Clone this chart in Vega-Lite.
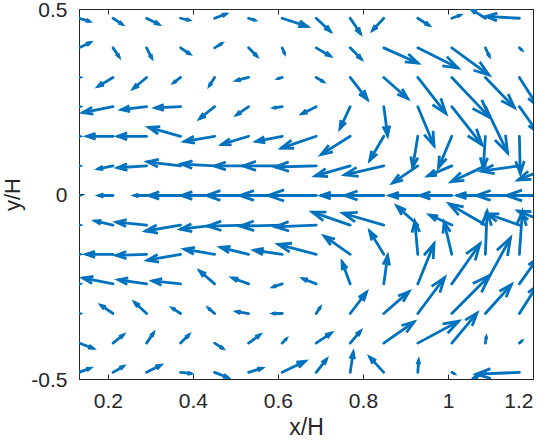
{
  "$schema": "https://vega.github.io/schema/vega-lite/v6.json",
  "width": 454,
  "height": 370,
  "autosize": "none",
  "padding": {"left": 79, "top": 9, "right": 16, "bottom": 61},
  "background": "white",
  "config": {
    "view": {"stroke": null}
  },
  "data": {
    "values": [
      {"x":0.132,"y":0.475,"u":0.024,"v":-0.008},{"x":0.212,"y":0.475,"u":0.021,"v":-0.016},{"x":0.291,"y":0.475,"u":0.028,"v":-0.016},{"x":0.371,"y":0.475,"u":0.019,"v":-0.005},{"x":0.451,"y":0.475,"u":0.026,"v":0.011},{"x":0.531,"y":0.475,"u":0.014,"v":-0.005},{"x":0.610,"y":0.475,"u":0.059,"v":-0.022},{"x":0.690,"y":0.475,"u":0.033,"v":-0.035},{"x":0.770,"y":0.475,"u":0.024,"v":-0.041},{"x":0.849,"y":0.475,"u":-0.026,"v":-0.032},{"x":0.929,"y":0.475,"u":0.026,"v":-0.019},{"x":1.009,"y":0.475,"u":0.019,"v":0.008},{"x":1.088,"y":0.475,"u":-0.033,"v":0.024},{"x":1.168,"y":0.475,"u":-0.078,"v":0.005},
      {"x":0.132,"y":0.395,"u":0.026,"v":0.014},{"x":0.212,"y":0.395,"u":0.014,"v":-0.024},{"x":0.291,"y":0.395,"u":0.012,"v":-0.027},{"x":0.371,"y":0.395,"u":0.021,"v":-0.016},{"x":0.451,"y":0.395,"u":0.016,"v":0.011},{"x":0.531,"y":0.395,"u":0.019,"v":-0.022},{"x":0.610,"y":0.395,"u":0.005,"v":-0.014},{"x":0.690,"y":0.395,"u":0.033,"v":-0.022},{"x":0.770,"y":0.395,"u":0.026,"v":-0.030},{"x":0.849,"y":0.395,"u":0.080,"v":-0.041},{"x":0.929,"y":0.395,"u":0.094,"v":-0.054},{"x":1.009,"y":0.395,"u":0.087,"v":-0.073},{"x":1.088,"y":0.395,"u":0.009,"v":-0.022},{"x":1.168,"y":0.395,"u":0.005,"v":-0.005},
      {"x":0.132,"y":0.315,"u":0.001,"v":0},{"x":0.212,"y":0.315,"u":-0.035,"v":-0.024},{"x":0.291,"y":0.315,"u":-0.031,"v":-0.030},{"x":0.371,"y":0.315,"u":-0.016,"v":-0.014},{"x":0.451,"y":0.315,"u":-0.012,"v":-0.022},{"x":0.531,"y":0.315,"u":-0.028,"v":-0.008},{"x":0.610,"y":0.315,"u":-0.009,"v":-0.003},{"x":0.690,"y":0.315,"u":0.016,"v":-0.011},{"x":0.770,"y":0.315,"u":0.040,"v":-0.059},{"x":0.849,"y":0.315,"u":0.056,"v":-0.057},{"x":0.929,"y":0.315,"u":0.066,"v":-0.097},{"x":1.009,"y":0.315,"u":0.089,"v":-0.108},{"x":1.088,"y":0.315,"u":0.068,"v":-0.081},{"x":1.168,"y":0.315,"u":0.042,"v":-0.076},
      {"x":0.132,"y":0.236,"u":0.001,"v":0},{"x":0.212,"y":0.236,"u":-0.071,"v":-0.016},{"x":0.291,"y":0.236,"u":-0.059,"v":-0.008},{"x":0.371,"y":0.236,"u":-0.059,"v":-0.003},{"x":0.451,"y":0.236,"u":-0.035,"v":-0.032},{"x":0.531,"y":0.236,"u":-0.028,"v":-0.022},{"x":0.610,"y":0.236,"u":-0.019,"v":-0.003},{"x":0.690,"y":0.236,"u":-0.033,"v":-0.019},{"x":0.770,"y":0.236,"u":-0.024,"v":-0.059},{"x":0.849,"y":0.236,"u":0.009,"v":-0.078},{"x":0.929,"y":0.236,"u":0.038,"v":-0.105},{"x":1.009,"y":0.236,"u":0.071,"v":-0.103},{"x":1.088,"y":0.236,"u":0.052,"v":-0.124},{"x":1.168,"y":0.236,"u":0.042,"v":-0.068},
      {"x":0.132,"y":0.156,"u":0.001,"v":0},{"x":0.212,"y":0.156,"u":-0.061,"v":0},{"x":0.291,"y":0.156,"u":-0.068,"v":0},{"x":0.371,"y":0.156,"u":-0.075,"v":0.024},{"x":0.451,"y":0.156,"u":-0.071,"v":-0.014},{"x":0.531,"y":0.156,"u":-0.063,"v":-0.022},{"x":0.610,"y":0.156,"u":-0.061,"v":-0.014},{"x":0.690,"y":0.156,"u":-0.082,"v":-0.032},{"x":0.770,"y":0.156,"u":-0.068,"v":-0.049},{"x":0.849,"y":0.156,"u":-0.033,"v":-0.065},{"x":0.929,"y":0.156,"u":-0.012,"v":-0.084},{"x":1.009,"y":0.156,"u":-0.031,"v":-0.084},{"x":1.088,"y":0.156,"u":-0.005,"v":-0.086},{"x":1.168,"y":0.156,"u":0.002,"v":-0.100},
      {"x":0.132,"y":0.076,"u":0.001,"v":0},{"x":0.212,"y":0.076,"u":-0.035,"v":-0.008},{"x":0.291,"y":0.076,"u":-0.068,"v":-0.005},{"x":0.371,"y":0.076,"u":-0.078,"v":0.011},{"x":0.451,"y":0.076,"u":-0.078,"v":0.005},{"x":0.531,"y":0.076,"u":-0.080,"v":0},{"x":0.610,"y":0.076,"u":-0.092,"v":0},{"x":0.690,"y":0.076,"u":-0.096,"v":-0.003},{"x":0.770,"y":0.076,"u":-0.082,"v":-0.027},{"x":0.849,"y":0.076,"u":-0.092,"v":-0.024},{"x":0.929,"y":0.076,"u":-0.059,"v":-0.046},{"x":1.009,"y":0.076,"u":-0.056,"v":-0.027},{"x":1.088,"y":0.076,"u":-0.080,"v":-0.043},{"x":1.168,"y":0.076,"u":-0.089,"v":-0.014},{"x":1.248,"y":0.076,"u":-0.083,"v":-0.038},
      {"x":0.132,"y":-0.004,"u":0.001,"v":0},{"x":0.212,"y":-0.004,"u":-0.033,"v":0},{"x":0.291,"y":-0.004,"u":-0.028,"v":0},{"x":0.371,"y":-0.004,"u":-0.075,"v":0},{"x":0.451,"y":-0.004,"u":-0.078,"v":0},{"x":0.531,"y":-0.004,"u":-0.099,"v":0},{"x":0.610,"y":-0.004,"u":-0.099,"v":0},{"x":0.690,"y":-0.004,"u":-0.113,"v":0},{"x":0.770,"y":-0.004,"u":-0.068,"v":0},{"x":0.849,"y":-0.004,"u":-0.092,"v":0},{"x":0.929,"y":-0.004,"u":-0.066,"v":0},{"x":1.009,"y":-0.004,"u":-0.075,"v":0},{"x":1.088,"y":-0.004,"u":-0.066,"v":0},{"x":1.168,"y":-0.004,"u":-0.101,"v":0},{"x":1.248,"y":-0.004,"u":-0.110,"v":0},
      {"x":0.132,"y":-0.084,"u":0.001,"v":0},{"x":0.212,"y":-0.084,"u":-0.042,"v":0.011},{"x":0.291,"y":-0.084,"u":-0.071,"v":0.008},{"x":0.371,"y":-0.084,"u":-0.082,"v":-0.016},{"x":0.451,"y":-0.084,"u":-0.080,"v":-0.011},{"x":0.531,"y":-0.084,"u":-0.096,"v":-0.003},{"x":0.610,"y":-0.084,"u":-0.099,"v":-0.003},{"x":0.690,"y":-0.084,"u":-0.096,"v":-0.005},{"x":0.770,"y":-0.084,"u":-0.089,"v":0.035},{"x":0.849,"y":-0.084,"u":-0.096,"v":0.032},{"x":0.929,"y":-0.084,"u":-0.049,"v":0.051},{"x":1.009,"y":-0.084,"u":-0.052,"v":0.027},{"x":1.088,"y":-0.084,"u":-0.085,"v":0.057},{"x":1.168,"y":-0.084,"u":-0.075,"v":0.030},{"x":1.248,"y":-0.084,"u":-0.083,"v":0.038},
      {"x":0.132,"y":-0.163,"u":0.001,"v":0},{"x":0.212,"y":-0.163,"u":-0.063,"v":0},{"x":0.291,"y":-0.163,"u":-0.071,"v":-0.003},{"x":0.371,"y":-0.163,"u":-0.078,"v":-0.016},{"x":0.451,"y":-0.163,"u":-0.071,"v":0.014},{"x":0.531,"y":-0.163,"u":-0.066,"v":0.019},{"x":0.610,"y":-0.163,"u":-0.066,"v":0.011},{"x":0.690,"y":-0.163,"u":-0.089,"v":0.027},{"x":0.770,"y":-0.163,"u":-0.061,"v":0.049},{"x":0.849,"y":-0.163,"u":-0.033,"v":0.062},{"x":0.929,"y":-0.163,"u":-0.007,"v":0.089},{"x":1.009,"y":-0.163,"u":-0.018,"v":0.087},{"x":1.088,"y":-0.163,"u":0.004,"v":0.116},{"x":1.168,"y":-0.163,"u":0.007,"v":0.116},
      {"x":0.132,"y":-0.243,"u":0.001,"v":0},{"x":0.212,"y":-0.243,"u":-0.071,"v":0.016},{"x":0.291,"y":-0.243,"u":-0.066,"v":0.011},{"x":0.371,"y":-0.243,"u":-0.066,"v":0.008},{"x":0.451,"y":-0.243,"u":-0.035,"v":0.035},{"x":0.531,"y":-0.243,"u":-0.038,"v":0.016},{"x":0.610,"y":-0.243,"u":-0.021,"v":-0.008},{"x":0.690,"y":-0.243,"u":-0.031,"v":0.014},{"x":0.770,"y":-0.243,"u":-0.019,"v":0.059},{"x":0.849,"y":-0.243,"u":0.009,"v":0.076},{"x":0.929,"y":-0.243,"u":0.038,"v":0.108},{"x":1.009,"y":-0.243,"u":0.066,"v":0.108},{"x":1.088,"y":-0.243,"u":0.059,"v":0.124},{"x":1.168,"y":-0.243,"u":0.042,"v":0.068},
      {"x":0.132,"y":-0.323,"u":0.001,"v":0},{"x":0.212,"y":-0.323,"u":-0.028,"v":0.022},{"x":0.291,"y":-0.323,"u":-0.028,"v":0.030},{"x":0.371,"y":-0.323,"u":-0.019,"v":0.014},{"x":0.451,"y":-0.323,"u":-0.014,"v":0.014},{"x":0.531,"y":-0.323,"u":-0.028,"v":0.005},{"x":0.610,"y":-0.323,"u":-0.021,"v":0},{"x":0.690,"y":-0.323,"u":0.009,"v":0.016},{"x":0.770,"y":-0.323,"u":0.038,"v":0.057},{"x":0.849,"y":-0.323,"u":0.059,"v":0.059},{"x":0.929,"y":-0.323,"u":0.063,"v":0.097},{"x":1.009,"y":-0.323,"u":0.089,"v":0.103},{"x":1.088,"y":-0.323,"u":0.061,"v":0.078},{"x":1.168,"y":-0.323,"u":0.042,"v":0.076},
      {"x":0.132,"y":-0.403,"u":0.033,"v":-0.014},{"x":0.212,"y":-0.403,"u":0.024,"v":0.022},{"x":0.291,"y":-0.403,"u":0.016,"v":0.027},{"x":0.371,"y":-0.403,"u":0.019,"v":0.022},{"x":0.451,"y":-0.403,"u":0.019,"v":-0.014},{"x":0.531,"y":-0.403,"u":0.026,"v":0.022},{"x":0.610,"y":-0.403,"u":0.009,"v":0.011},{"x":0.690,"y":-0.403,"u":0.035,"v":0.027},{"x":0.770,"y":-0.403,"u":0.024,"v":0.032},{"x":0.849,"y":-0.403,"u":0.071,"v":0.057},{"x":0.929,"y":-0.403,"u":0.096,"v":0.059},{"x":1.009,"y":-0.403,"u":0.059,"v":0.081},{"x":1.088,"y":-0.403,"u":0.002,"v":0.016},{"x":1.168,"y":-0.403,"u":0.005,"v":0.005},
      {"x":0.132,"y":-0.482,"u":0.026,"v":0.011},{"x":0.212,"y":-0.482,"u":0.024,"v":0.016},{"x":0.291,"y":-0.482,"u":0.033,"v":0.019},{"x":0.371,"y":-0.482,"u":0.024,"v":-0.003},{"x":0.451,"y":-0.482,"u":0.031,"v":-0.014},{"x":0.531,"y":-0.482,"u":0.031,"v":0.011},{"x":0.610,"y":-0.482,"u":0.054,"v":0.030},{"x":0.690,"y":-0.482,"u":0.024,"v":0.035},{"x":0.770,"y":-0.482,"u":0.007,"v":0.054},{"x":0.849,"y":-0.482,"u":-0.033,"v":0.041},{"x":0.929,"y":-0.482,"u":0.002,"v":0.032},{"x":1.009,"y":-0.482,"u":0.005,"v":-0.003},{"x":1.088,"y":-0.482,"u":-0.028,"v":-0.016},{"x":1.168,"y":-0.482,"u":-0.101,"v":-0.005}
    ]
  },
  "transform": [
    {"calculate": "datum.x + datum.u", "as": "xe"},
    {"calculate": "datum.y + datum.v", "as": "ye"},
    {"calculate": "atan2(-datum.v * 370, datum.u * 425) * 180 / PI", "as": "ang"},
    {"calculate": "0.4356 * (pow(datum.u * 425, 2) + pow(datum.v * 370, 2))", "as": "sz"}
  ],
  "layer": [
    {
      "mark": {"type": "rule", "color": "#0072BD", "strokeWidth": 2.8, "strokeCap": "round", "clip": true},
      "encoding": {
        "x": {"field": "x", "type": "quantitative",
              "scale": {"domain": [0.132, 1.2], "nice": false, "zero": false},
              "axis": {"orient": "bottom", "values": [0.2, 0.4, 0.6, 0.8, 1, 1.2], "labelExpr": "datum.value + ''",
                       "grid": false, "domainColor": "#262626", "tickColor": "#262626", "tickSize": -5,
                       "labelFont": "Liberation Sans", "labelFontSize": 21, "labelColor": "#262626", "labelPadding": 16,
                       "title": "x/H", "titleFont": "Liberation Sans", "titleFontSize": 23, "titleFontWeight": "normal", "titleColor": "#262626", "titlePadding": 5}},
        "y": {"field": "y", "type": "quantitative",
              "scale": {"domain": [-0.5, 0.5], "nice": false, "zero": false},
              "axis": {"orient": "left", "values": [-0.5, 0, 0.5], "labelExpr": "datum.value + ''",
                       "grid": false, "domainColor": "#262626", "tickColor": "#262626", "tickSize": -5,
                       "labelFont": "Liberation Sans", "labelFontSize": 21, "labelColor": "#262626", "labelPadding": 17,
                       "labelBaseline": "alphabetic", "labelOffset": 7.5,
                       "title": "y/H", "titleFont": "Liberation Sans", "titleFontSize": 22, "titleFontWeight": "normal", "titleColor": "#262626", "titlePadding": 6}},
        "x2": {"field": "xe"},
        "y2": {"field": "ye"}
      }
    },
    {
      "mark": {"type": "point", "shape": "M-1,-0.35L0,0L-1,0.35", "filled": false, "color": "#0072BD", "strokeWidth": 2.8, "strokeJoin": "miter", "opacity": 1, "clip": true},
      "encoding": {
        "x": {"field": "xe", "type": "quantitative",
              "scale": {"domain": [0.132, 1.2], "nice": false, "zero": false},
              "axis": {"orient": "top", "values": [0.2, 0.4, 0.6, 0.8, 1, 1.2], "labels": false, "title": null, "grid": false, "domainColor": "#262626", "tickColor": "#262626", "tickSize": -5}},
        "y": {"field": "ye", "type": "quantitative",
              "scale": {"domain": [-0.5, 0.5], "nice": false, "zero": false},
              "axis": {"orient": "right", "values": [-0.5, 0, 0.5], "labels": false, "title": null, "grid": false, "domainColor": "#262626", "tickColor": "#262626", "tickSize": -5}},
        "angle": {"field": "ang", "type": "quantitative", "scale": null},
        "size": {"field": "sz", "type": "quantitative", "scale": null}
      }
    }
  ],
  "resolve": {"axis": {"x": "independent", "y": "independent"}}
}
